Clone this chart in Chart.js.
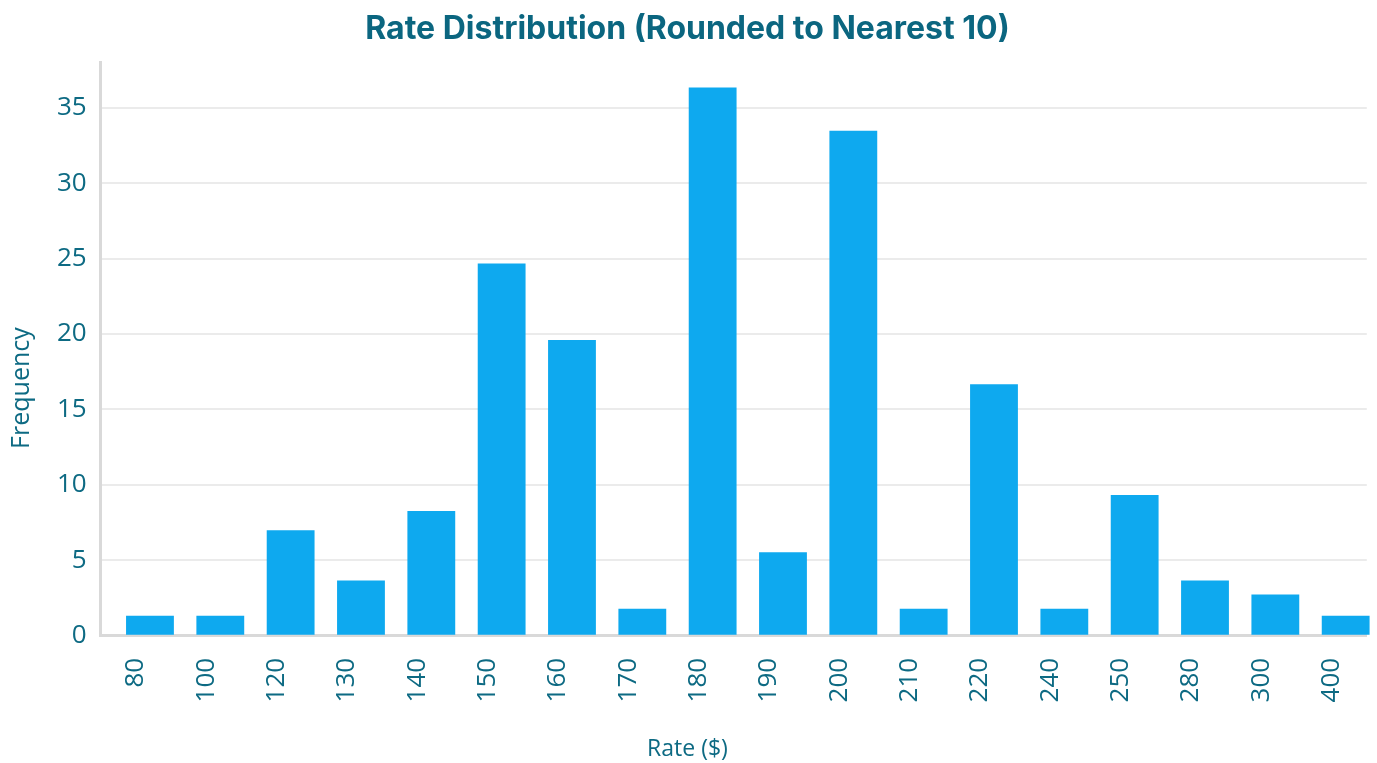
<!DOCTYPE html>
<html>
<head>
<meta charset="utf-8">
<title>Rate Distribution</title>
<script src="https://cdn.jsdelivr.net/npm/chart.js@4"></script>
<style>
  html, body { margin: 0; padding: 0; background: #fff; overflow: hidden; }
  #wrap { width: 1377px; height: 763px; }
</style>
</head>
<body>
<div id="wrap"><canvas id="rateChart"></canvas></div>
<script>
// rate buckets (rounded to nearest 10) and how often each shows up
const rateLabels = ['80', '100', '120', '130', '140', '150', '160', '170', '180',
                    '190', '200', '210', '220', '240', '250', '280', '300', '400'];
const frequencies = [1.33, 1.33, 7, 3.67, 8.27, 24.67, 19.6, 1.8, 36.33,
                     5.53, 33.47, 1.8, 16.67, 1.8, 9.33, 3.67, 2.73, 1.33];
const yTicks = [0, 5, 10, 15, 20, 25, 30, 35];

const teal = '#0d6a83';
const barShift = 0.2;   // bars sit a little right of their tick label

document.addEventListener('DOMContentLoaded', function() {
    const ctx = document.getElementById('rateChart').getContext('2d');
    new Chart(ctx, {
        type: 'bar',
        data: {
            datasets: [{
                data: frequencies.map((v, i) => ({ x: i + barShift, y: v })),
                backgroundColor: '#0ea9ef',
                borderWidth: 0,
                barPercentage: 0.85,
                categoryPercentage: 0.8,
                clip: false
            }]
        },
        options: {
            responsive: true,
            maintainAspectRatio: false,
            animation: false,
            layout: { padding: { left: 5, right: 7, top: 0, bottom: 0 } },
            plugins: {
                legend: { display: false },
                tooltip: { enabled: false },
                title: {
                    display: true,
                    text: 'Rate Distribution (Rounded to Nearest 10)',
                    color: '#0b6680',
                    font: { family: 'Inter', size: 32, weight: 'bold' },
                    padding: { top: 10, bottom: 14 }
                },
                subtitle: {
                    display: true,
                    position: 'bottom',
                    text: 'Rate ($)',
                    color: teal,
                    font: { family: 'Open Sans', size: 23 },
                    padding: { top: 19, bottom: 0 }
                }
            },
            scales: {
                x: {
                    type: 'linear',
                    offset: false,
                    min: -0.5,
                    max: rateLabels.length - 0.5,
                    afterBuildTicks: function(axis) {
                        axis.ticks = rateLabels.map((_, i) => ({ value: i }));
                    },
                    grid: { display: false },
                    border: { color: '#d9d9d9', width: 3 },
                    ticks: {
                        color: teal,
                        font: { family: 'Open Sans', size: 26 },
                        autoSkip: false,
                        maxRotation: 90,
                        minRotation: 90,
                        padding: 14,
                        callback: function(value) {
                            return rateLabels[value];
                        }
                    }
                },
                y: {
                    min: 0,
                    max: 38,
                    afterBuildTicks: function(axis) {
                        axis.ticks = yTicks.map(v => ({ value: v }));
                    },
                    grid: { color: '#ebebeb', lineWidth: 2, drawTicks: false },
                    border: { color: '#d9d9d9', width: 3 },
                    ticks: {
                        color: teal,
                        font: { family: 'Open Sans', size: 26 },
                        padding: 14
                    },
                    title: {
                        display: true,
                        // trailing blanks push the visible word a bit below the middle
                        text: 'Frequency            ',
                        color: teal,
                        font: { family: 'Open Sans', size: 25 },
                        padding: { top: 2, bottom: 6 }
                    }
                }
            }
        }
    });
});
</script>
</body>
</html>
